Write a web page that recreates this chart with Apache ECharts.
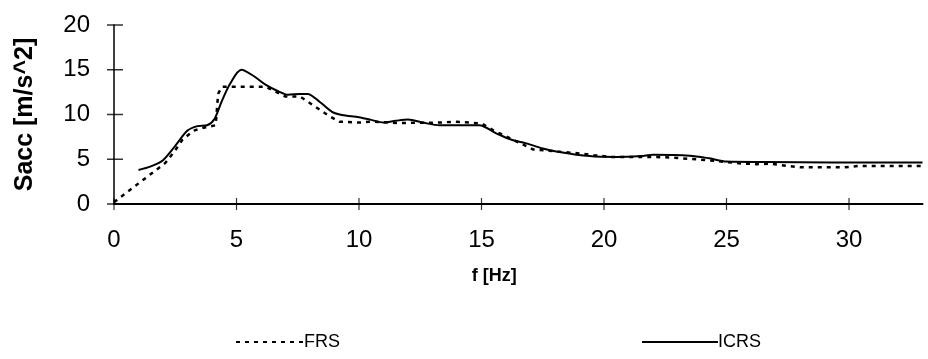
<!DOCTYPE html>
<html><head><meta charset="utf-8">
<script src="https://cdn.jsdelivr.net/npm/echarts@6/dist/echarts.min.js"></script>
<style>html,body{margin:0;padding:0;background:#fff}#c{width:928px;height:359px}</style>
</head><body><div id="c"></div>
<script>
const xTicks = [0, 5, 10, 15, 20, 25, 30];
const yTicks = [0, 5, 10, 15, 20];
const icrsF = [1.0,1.5,2.0,2.5,3.0,3.4,3.8,4.1,4.4,4.75,5.2,5.7,6.2,6.7,7.1,7.6,7.9,8.4,8.9,9.3,10.0,10.5,11.0,11.5,12.0,12.6,13.3,14.9,15.6,16.2,16.8,17.5,18.1,19.4,20.5,21.5,22.0,23.5,24.3,25.0,26.6,29.3,33.0];
const icrsV = [3.8,4.2,4.9,6.5,8.2,8.7,8.8,9.5,11.5,13.5,15.0,14.3,13.3,12.6,12.2,12.3,12.3,11.4,10.3,9.95,9.7,9.4,9.1,9.3,9.45,9.1,8.8,8.8,7.9,7.2,6.8,6.2,5.85,5.35,5.25,5.35,5.5,5.4,5.1,4.75,4.7,4.65,4.65];
const frsF = [0,2.1,2.5,2.8,3.25,3.7,4.15,4.25,4.4,6.2,7.0,7.6,8.8,9.2,10.0,10.5,11.6,13.3,13.9,14.5,15.0,15.5,16.2,17.1,19.0,19.6,20.3,22.0,22.7,23.8,24.5,25.5,26.2,26.8,27.5,28.0,29.8,30.4,33.0];
const frsV = [0.2,4.6,6.0,7.2,8.2,8.55,8.8,12.3,13.1,13.1,12.0,12.0,9.8,9.2,9.1,9.2,9.05,9.1,9.2,9.1,9.0,8.2,7.3,6.1,5.65,5.45,5.25,5.25,5.2,4.98,4.83,4.55,4.45,4.5,4.25,4.1,4.1,4.25,4.25];

const icrs = icrsF.map((f,i)=>[f, icrsV[i]]);
const frs = frsF.map((f,i)=>[f, frsV[i]]);
const FONT = '"Liberation Sans", Arial, sans-serif';
const chart = echarts.init(document.getElementById('c'));
const legText = {fontFamily: FONT, fontSize: 18, color: '#000', padding: [0,0,0,-5]};
chart.setOption({
  animation: false,
  backgroundColor: '#fff',
  textStyle: {fontFamily: FONT, color: '#000'},
  grid: {left: 114, right: 5.5, top: 25, bottom: 155},
  legend: [
    {left: 230, top: 328, itemWidth: 68, itemHeight: 14, data: ['FRS'],
     itemStyle: {opacity: 0}, lineStyle: {opacity: 1}, textStyle: legText},
    {left: 636, top: 328, itemWidth: 76, itemHeight: 14, data: ['ICRS'],
     itemStyle: {opacity: 0}, lineStyle: {opacity: 1}, textStyle: legText}
  ],
  xAxis: {
    type: 'value', min: 0, max: 33, interval: 5,
    name: 'f [Hz]', nameLocation: 'middle', nameGap: 63,
    nameTextStyle: {fontFamily: FONT, fontSize: 18, fontWeight: 'bold', color: '#000', padding: [0, 48, 0, 0]},
    axisLine: {show: true, onZero: false, lineStyle: {color: '#000', width: 2}},
    axisTick: {show: false},
    axisLabel: {customValues: xTicks, fontSize: 24, color: '#000', margin: 24, fontFamily: FONT},
    splitLine: {show: false}
  },
  yAxis: {
    type: 'value', min: 0, max: 20, interval: 5,
    name: 'Sacc [m/s^2]', nameLocation: 'middle', nameGap: 76,
    nameTextStyle: {fontFamily: FONT, fontSize: 25, fontWeight: 'bold', color: '#000'},
    axisLine: {show: true, onZero: false, lineStyle: {color: '#000', width: 1.5}},
    axisTick: {show: false},
    axisLabel: {fontSize: 24, color: '#000', margin: 24, fontFamily: FONT},
    splitLine: {show: false}
  },
  series: [
    {name: 'xticks', type: 'scatter', data: xTicks.map(t => [t, 0]), silent: true, clip: false,
     symbol: 'rect', symbolSize: [1.2, 12], itemStyle: {color: '#000'}, z: 5},
    {name: 'yticks', type: 'scatter', data: yTicks.map(t => [0, t]), silent: true, clip: false,
     symbol: 'rect', symbolSize: [16, 1.5], symbolOffset: [1, 0], itemStyle: {color: '#000'}, z: 5},
    {name: 'FRS', type: 'line', data: frs, showSymbol: false, symbol: 'none',
     lineStyle: {color: '#000', width: 2.5, type: [4, 5]}, itemStyle: {color: '#000'}},
    {name: 'ICRS', type: 'line', data: icrs, showSymbol: false, symbol: 'none', smooth: 0.3,
     lineStyle: {color: '#000', width: 2}, itemStyle: {color: '#000'}}
  ]
});
</script></body></html>
